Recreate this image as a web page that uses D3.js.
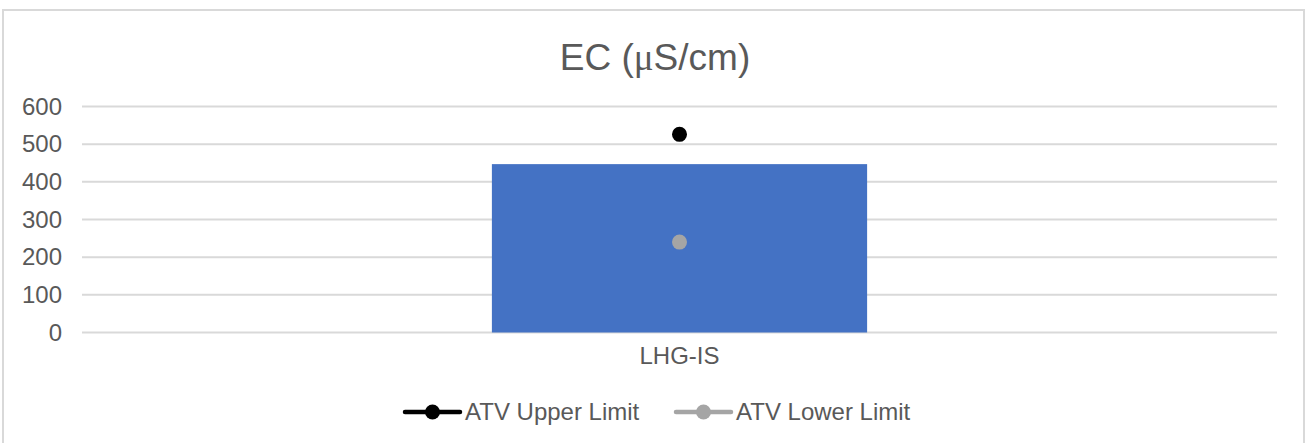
<!DOCTYPE html>
<html>
<head>
<meta charset="utf-8">
<script src="https://cdn.jsdelivr.net/npm/d3@7"></script>
<style>
  html, body { margin: 0; padding: 0; background: #fff; }
  svg { display: block; font-family: Arial, "Liberation Sans", sans-serif; }
</style>
</head>
<body>
<svg id="chart" width="1306" height="443"></svg>
<script>
// Sample site and measured conductivity
const categories = ["LHG-IS"];
const ecValues = [447];
// Assessment trigger values
const atvUpper = [526];
const atvLower = [240];
const yTicks = [0, 100, 200, 300, 400, 500, 600];
const titleParts = ["EC (", "\u03BC", "S/cm)"];
const legendItems = [
  { name: "ATV Upper Limit", color: "#000000", values: atvUpper },
  { name: "ATV Lower Limit", color: "#A5A5A5", values: atvLower }
];

const svg = d3.select("#chart");
const plot = { left: 82, right: 1277, top: 106.5, bottom: 332.5 };

// Chart frame
svg.append("rect")
  .attr("x", 3).attr("y", 10)
  .attr("width", 1301).attr("height", 440)
  .attr("fill", "#fff").attr("stroke", "#D9D9D9").attr("stroke-width", 2);

// Title (the micro sign is set in a serif face, like a Symbol glyph)
const title = svg.append("text")
  .attr("x", 655).attr("y", 70)
  .attr("text-anchor", "middle")
  .attr("font-size", 37)
  .attr("fill", "#595959");
title.append("tspan").text(titleParts[0]);
title.append("tspan").attr("font-family", "'Liberation Serif', 'DejaVu Serif', serif").text(titleParts[1]);
title.append("tspan").text(titleParts[2]);

const x = d3.scaleBand().domain(categories)
  .range([plot.left, plot.right]).paddingInner(0).paddingOuter(0);
const y = d3.scaleLinear().domain([0, 600]).range([plot.bottom, plot.top]);

// Horizontal gridlines
svg.append("g").selectAll("line").data(yTicks).join("line")
  .attr("x1", plot.left).attr("x2", plot.right)
  .attr("y1", d => y(d)).attr("y2", d => y(d))
  .attr("stroke", "#D9D9D9").attr("stroke-width", 2);

// Y axis labels
const yAxis = d3.axisLeft(y).tickValues(yTicks).tickSize(0).tickPadding(0);
const gy = svg.append("g").attr("transform", "translate(62,0)").call(yAxis);
gy.select(".domain").remove();
gy.selectAll("text")
  .attr("font-size", 24).attr("fill", "#595959")
  .attr("font-family", "Arial, 'Liberation Sans', sans-serif");

// Bars
const barFrac = 0.314;
const bw = x.bandwidth() * barFrac;
svg.append("g").selectAll("rect").data(categories).join("rect")
  .attr("x", d => x(d) + x.bandwidth() / 2 - bw / 2)
  .attr("width", bw)
  .attr("y", (d, i) => y(ecValues[i]))
  .attr("height", (d, i) => y(0) - y(ecValues[i]))
  .attr("fill", "#4472C4");

// ATV markers
legendItems.forEach(s => {
  svg.append("g").selectAll("circle").data(categories).join("circle")
    .attr("cx", d => x(d) + x.bandwidth() / 2)
    .attr("cy", (d, i) => y(s.values[i]))
    .attr("r", 7.5)
    .attr("fill", s.color);
});

// X axis labels
const xAxis = d3.axisBottom(x).tickSize(0).tickPadding(0);
const gx = svg.append("g").attr("transform", `translate(0,${plot.bottom + 14})`).call(xAxis);
gx.select(".domain").remove();
gx.selectAll("text")
  .attr("font-size", 24).attr("fill", "#595959")
  .attr("dy", "0.71em")
  .attr("font-family", "Arial, 'Liberation Sans', sans-serif");

// Legend
const legendPos = [405, 676];
const lg = svg.append("g").selectAll("g").data(legendItems).join("g")
  .attr("transform", (d, i) => `translate(${legendPos[i]},412)`);
lg.append("line").attr("x1", 0).attr("x2", 55).attr("y1", 0).attr("y2", 0)
  .attr("stroke", d => d.color).attr("stroke-width", 4.5).attr("stroke-linecap", "round");
lg.append("circle").attr("cx", 27.5).attr("cy", 0).attr("r", 7.5).attr("fill", d => d.color);
lg.append("text").attr("x", 60).attr("y", 0).attr("dy", "0.35em")
  .attr("font-size", 24).attr("fill", "#595959").text(d => d.name);
</script>
</body>
</html>
